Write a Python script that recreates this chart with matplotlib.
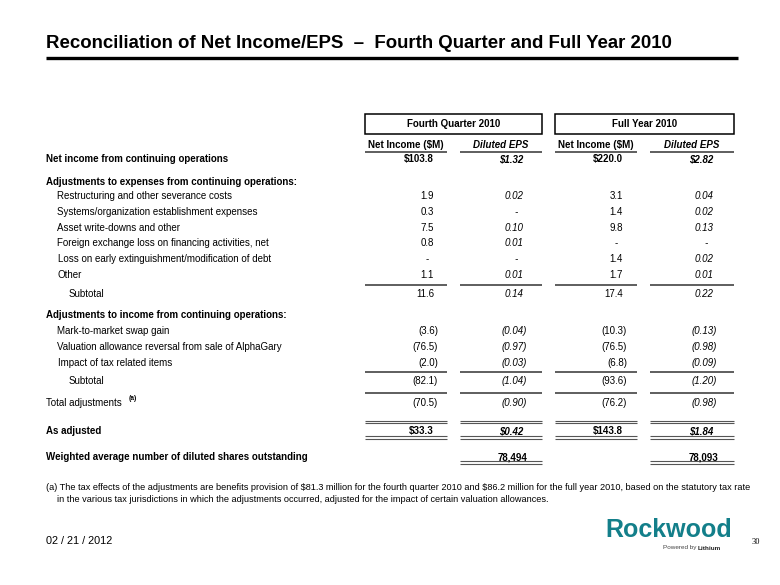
import matplotlib
matplotlib.use("Agg")
import matplotlib.pyplot as plt
from matplotlib import font_manager

# ---------------- data ----------------
row_labels = [
    "Net income from continuing operations",
    "Adjustments to expenses from continuing operations:",
    "Restructuring and other severance costs",
    "Systems/organization establishment expenses",
    "Asset write-downs and other",
    "Foreign exchange loss on financing activities, net",
    "Loss on early extinguishment/modification of debt",
    "Other",
    "Subtotal",
    "Adjustments to income from continuing operations:",
    "Mark-to-market swap gain",
    "Valuation allowance reversal from sale of AlphaGary",
    "Impact of tax related items",
    "Subtotal",
    "Total adjustments",
    "As adjusted",
    "Weighted average number of diluted shares outstanding",
]
q4_net_income = [103.8, None, 1.9, 0.3, 7.5, 0.8, 0.0, 1.1, 11.6, None, -3.6, -76.5, -2.0, -82.1, -70.5, 33.3, None]
q4_eps = [1.32, None, 0.02, 0.0, 0.10, 0.01, 0.0, 0.01, 0.14, None, -0.04, -0.97, -0.03, -1.04, -0.90, 0.42, None]
fy_net_income = [220.0, None, 3.1, 1.4, 9.8, 0.0, 1.4, 1.7, 17.4, None, -10.3, -76.5, -6.8, -93.6, -76.2, 143.8, None]
fy_eps = [2.82, None, 0.04, 0.02, 0.13, 0.0, 0.02, 0.01, 0.22, None, -0.13, -0.98, -0.09, -1.20, -0.98, 1.84, None]
diluted_shares = [78494, 78093]   # Q4 2010, FY 2010 (thousands)

period_titles = ["Fourth Quarter 2010", "Full Year 2010"]
column_titles = ["Net Income ($M)", "Diluted EPS", "Net Income ($M)", "Diluted EPS"]
title = "Reconciliation of Net Income/EPS  \u2013  Fourth Quarter and Full Year 2010"
footnote = ["(a) The tax effects of the adjustments are benefits provision of $81.3 million for the fourth quarter 2010 and $86.2 million for the full year 2010, based on the statutory tax rate",
            "in the various tax jurisdictions in which the adjustments occurred, adjusted for the impact of certain valuation allowances."]
date_text = "02 / 21 / 2012"
page_number = "30"

# ---------------- style / layout ----------------
def has_font(name):
    try:
        font_manager.findfont(font_manager.FontProperties(family=name), fallback_to_default=False)
        return True
    except Exception:
        return False

SANS = "Liberation Sans" if has_font("Liberation Sans") else "DejaVu Sans"
NARROW = "Liberation Sans Narrow" if has_font("Liberation Sans Narrow") else SANS
SERIF = "Liberation Serif" if has_font("Liberation Serif") else "DejaVu Serif"

W, H = 780, 585
fig = plt.figure(figsize=(W / 100, H / 100), dpi=100)
ax = fig.add_axes([0, 0, 1, 1])
ax.set_xlim(0, W)
ax.set_ylim(H, 0)
ax.axis("off")

FS = 7.05
TEAL = "#137f8a"
LINE = "#333333"


def T(x, y, s, **kw):
    kw.setdefault("family", SANS)
    kw.setdefault("va", "center")
    return ax.text(x, y, s, parse_math=False, **kw)


# row layout
row_y = [159, 182, 196, 212, 228, 243, 259, 275, 294, 315, 331, 347, 363, 381, 403, 431, 457]
row_x = [46, 46, 57, 57, 57, 57, 58, 57, 69, 46, 57, 57, 58, 69, 46, 46, 46]
bold_rows = {0, 1, 9, 15, 16}
dollar_rows = {0, 15}

col_left = [365, 460, 555, 650]
col_right_edge = [447, 542, 637, 734]
col_num_right = [434, 523, 623, 713]

# title
T(46, 44, title, fontsize=13.4, fontweight="bold", family=NARROW, ha="left", color="black")
ax.plot([46, 738], [58, 58], color="black", lw=2.4, solid_capstyle="butt")

# period boxes
for i, t in enumerate(period_titles):
    x0, x1 = col_left[2 * i], col_right_edge[2 * i + 1]
    ax.add_patch(plt.Rectangle((x0, 113.5), x1 - x0, 20, fill=False, ec="black", lw=1.1))
    T((x0 + x1) / 2, 124, t, fontsize=FS, fontweight="bold", ha="center")

# column headers
for j, t in enumerate(column_titles):
    cx = (col_left[j] + col_right_edge[j]) / 2
    T(cx, 145, t, fontsize=FS, fontweight="bold",
      style="italic" if j % 2 == 1 else "normal", ha="center")
    ax.plot([col_left[j], col_right_edge[j]], [151.5, 151.5], color=LINE, lw=1.1, solid_capstyle="butt")

# row labels
for i, lab in enumerate(row_labels):
    T(row_x[i], row_y[i], lab, fontsize=FS,
      fontweight="bold" if i in bold_rows else "normal", ha="left")
# superscript (a)
T(129, row_y[14] - 4, "(a)", fontsize=4.8, fontweight="bold", ha="left")


def fmt(v, decimals, dollar):
    if v is None:
        return None
    if v == 0:
        return "-"
    s = f"{abs(v):.{decimals}f}"
    if dollar:
        s = "$" + s
    if v < 0:
        s = "(" + s + ")"
    return s


columns = [(q4_net_income, 1, False), (q4_eps, 2, True), (fy_net_income, 1, False), (fy_eps, 2, True)]
for j, (vals, dec, ital) in enumerate(columns):
    for i, v in enumerate(vals):
        s = fmt(v, dec, i in dollar_rows)
        if s is None:
            continue
        x = col_num_right[j]
        if s == "-":
            x -= 5.5
        elif s.startswith("("):
            x += 4
        T(x, row_y[i], s, fontsize=FS,
          fontweight="bold" if i in bold_rows else "normal",
          style="italic" if ital else "normal", ha="right")

# diluted shares
for k, n in enumerate(diluted_shares):
    j = 2 * k + 1
    T(col_num_right[j] + 5, row_y[16], f"{n:,}", fontsize=FS, fontweight="bold", ha="right")


def hline(y, cols, double=False):
    for j in cols:
        if double:
            ax.plot([col_left[j], col_right_edge[j]], [y - 1.2, y - 1.2], color="#555555", lw=0.8, solid_capstyle="butt")
            ax.plot([col_left[j], col_right_edge[j]], [y + 1.2, y + 1.2], color="#555555", lw=0.8, solid_capstyle="butt")
        else:
            ax.plot([col_left[j], col_right_edge[j]], [y, y], color=LINE, lw=1.1, solid_capstyle="butt")


hline(284.5, range(4))
hline(372, range(4))
hline(392.5, range(4))
hline(422, range(4), double=True)
hline(437.5, range(4), double=True)
hline(462.5, [1, 3], double=True)

# footnote
T(46, 487, footnote[0], fontsize=6.55, ha="left")
T(57, 499, footnote[1], fontsize=6.55, ha="left")

# footer
T(46, 541, date_text, fontsize=7.8, ha="left")
T(732, 530, "Rockwood", fontsize=18, fontweight="bold", family=NARROW, color=TEAL, ha="right")
T(698, 548, "Powered by ", fontsize=4.6, color="#444444", ha="right")
T(698, 548, "Lithium", fontsize=4.6, fontweight="bold", color="#222222", ha="left")
T(752, 542, page_number, fontsize=6, family=SERIF, ha="left")

fig.savefig("out.png", dpi=100)
